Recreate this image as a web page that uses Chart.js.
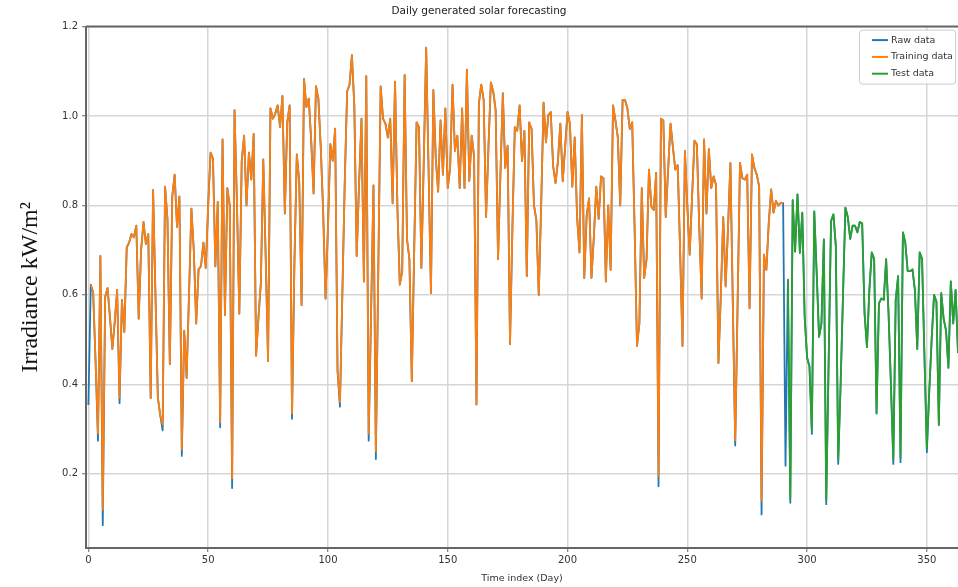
<!DOCTYPE html>
<html>
<head>
<meta charset="utf-8">
<title>Daily generated solar forecasting</title>
<script src="https://cdn.jsdelivr.net/npm/chart.js@4.4.1/dist/chart.umd.min.js"></script>
<style>
    html, body { margin: 0; padding: 0; background: #ffffff; }
    #wrap { width: 958px; height: 587px; }
</style>
</head>
<body>
<div id="wrap"><canvas id="solarChart" width="958" height="587"></canvas></div>
<script>
// Daily irradiance (kW/m2), one value per day starting at day 0
const irradiance = [
    0.354, 0.623, 0.604, 0.45, 0.274, 0.687, 0.085, 0.596, 0.615, 0.55,
    0.479, 0.54, 0.611, 0.358, 0.589, 0.517, 0.706, 0.717, 0.736, 0.729,
    0.755, 0.547, 0.70, 0.763, 0.714, 0.736, 0.369, 0.835, 0.60, 0.37,
    0.33, 0.297, 0.842, 0.77, 0.445, 0.82, 0.869, 0.752, 0.82, 0.24,
    0.52, 0.414, 0.60, 0.793, 0.70, 0.536, 0.657, 0.664, 0.717, 0.66,
    0.80, 0.918, 0.905, 0.664, 0.808, 0.304, 0.948, 0.555, 0.839, 0.80,
    0.168, 1.013, 0.808, 0.558, 0.899, 0.956, 0.80, 0.918, 0.858, 0.96,
    0.464, 0.55, 0.627, 0.903, 0.687, 0.452, 1.017, 0.994, 1.005, 1.024,
    0.975, 1.045, 0.782, 0.986, 1.024, 0.323, 0.672, 0.914, 0.854, 0.577,
    1.083, 1.02, 1.039, 0.945, 0.827, 1.067, 1.039, 0.93, 0.786, 0.592,
    0.75, 0.937, 0.90, 0.972, 0.43, 0.35, 0.60, 0.85, 1.055, 1.07,
    1.136, 1.024, 0.687, 0.85, 0.994, 0.63, 1.089, 0.274, 0.56, 0.845,
    0.233, 0.65, 1.066, 0.994, 0.983, 0.952, 0.994, 0.805, 1.077, 0.793,
    0.623, 0.653, 1.092, 0.725, 0.68, 0.407, 0.70, 0.986, 0.975, 0.66,
    0.90, 1.153, 0.88, 0.604, 1.058, 0.907, 0.831, 0.99, 0.869, 1.017,
    0.839, 0.884, 1.07, 0.922, 0.956, 0.839, 1.017, 0.839, 1.104, 0.855,
    0.956, 0.91, 0.355, 1.028, 1.07, 1.036, 0.774, 0.93, 1.075, 1.055,
    1.013, 0.68, 0.87, 1.051, 0.884, 0.934, 0.49, 0.75, 0.975, 0.967,
    1.024, 0.899, 0.967, 0.642, 0.986, 0.971, 0.80, 0.767, 0.60, 0.80,
    1.03, 0.941, 1.002, 1.009, 0.888, 0.85, 0.899, 0.983, 0.854, 0.93,
    1.009, 0.983, 0.842, 0.952, 0.774, 0.695, 1.002, 0.638, 0.778, 0.816,
    0.638, 0.73, 0.842, 0.77, 0.865, 0.861, 0.63, 0.80, 0.656, 1.024,
    0.99, 0.952, 0.80, 1.036, 1.036, 1.017, 0.971, 0.986, 0.75, 0.486,
    0.536, 0.839, 0.638, 0.68, 0.88, 0.797, 0.79, 0.873, 0.172, 0.994,
    0.99, 0.774, 0.88, 0.983, 0.93, 0.88, 0.89, 0.70, 0.486, 0.922,
    0.80, 0.69, 0.82, 0.945, 0.937, 0.75, 0.592, 0.948, 0.782, 0.926,
    0.839, 0.865, 0.846, 0.448, 0.60, 0.774, 0.619, 0.75, 0.895, 0.58,
    0.263, 0.58, 0.895, 0.861, 0.858, 0.869, 0.57, 0.914, 0.884, 0.869,
    0.842, 0.109, 0.69, 0.656, 0.76, 0.836, 0.784, 0.81, 0.80, 0.806,
    0.805, 0.218, 0.634, 0.135, 0.812, 0.697, 0.825, 0.694, 0.784, 0.55,
    0.46, 0.44, 0.289, 0.787, 0.65, 0.506, 0.536, 0.724, 0.132, 0.45,
    0.765, 0.78, 0.709, 0.222, 0.40, 0.60, 0.795, 0.774, 0.725, 0.755,
    0.755, 0.74, 0.763, 0.76, 0.558, 0.483, 0.611, 0.695, 0.68, 0.335,
    0.581, 0.592, 0.589, 0.68, 0.56, 0.40, 0.222, 0.589, 0.642, 0.226,
    0.74, 0.717, 0.653, 0.653, 0.657, 0.611, 0.479, 0.695, 0.68, 0.461,
    0.248, 0.384, 0.50, 0.60, 0.585, 0.309, 0.604, 0.547, 0.52, 0.437,
    0.63, 0.536, 0.611, 0.47
];

// first and last day of each split
const trainDays = [1, 290];
const testDays = [292, 363];

// days where the fitted line sits a little above the raw minimum
const trainTroughs = [
    [4, 0.29], [6, 0.12], [13, 0.37], [31, 0.31], [39, 0.255], [55, 0.315],
    [60, 0.19], [85, 0.335], [105, 0.36], [117, 0.29], [120, 0.25],
    [238, 0.195], [270, 0.275], [281, 0.14]
];
const testTroughs = [
    [293, 0.145], [302, 0.297], [308, 0.142], [313, 0.232], [336, 0.232],
    [339, 0.236], [350, 0.257]
];

const xTicks = [0, 50, 100, 150, 200, 250, 300, 350];
const yTicks = [0.2, 0.4, 0.6, 0.8, 1.0, 1.2];

const seriesNames = ['Raw data', 'Training data', 'Test data'];
const seriesColors = ['#1f77b4', '#ff7f0e', '#2ca02c'];

// --- build point lists ---
function slicePoints(range, troughs) {
    const fix = new Map(troughs);
    const pts = [];
    for (let d = range[0]; d <= range[1]; d++) {
        pts.push({ x: d, y: fix.has(d) ? fix.get(d) : irradiance[d] });
    }
    return pts;
}

const rawPoints = irradiance.map((v, d) => ({ x: d, y: v }));
const trainPoints = slicePoints(trainDays, trainTroughs);
const testPoints = slicePoints(testDays, testTroughs);

const tickFont = { family: 'DejaVu Sans', size: 10 };
const textColor = '#333333';
const spineColor = '#666666';
const gridColor = '#d6d6d6';

// top spine of the axes box
const topSpine = {
    id: 'topSpine',
    afterDatasetsDraw(chart) {
        const { ctx, chartArea: a } = chart;
        ctx.save();
        ctx.strokeStyle = spineColor;
        ctx.lineWidth = 2;
        ctx.beginPath();
        ctx.moveTo(a.left, a.top);
        ctx.lineTo(a.right, a.top);
        ctx.stroke();
        ctx.restore();
    }
};

// legend box in the upper right corner of the plot
const cornerLegend = {
    id: 'cornerLegend',
    afterDraw(chart) {
        const { ctx, chartArea: a } = chart;
        const boxW = 96, boxH = 54, rowH = 16.8;
        const x0 = a.right - boxW - 3, y0 = a.top + 3;
        ctx.save();
        ctx.fillStyle = 'rgba(255,255,255,0.85)';
        ctx.strokeStyle = '#cccccc';
        ctx.lineWidth = 1;
        ctx.beginPath();
        ctx.roundRect(x0 + 0.5, y0 + 0.5, boxW, boxH, 3);
        ctx.fill();
        ctx.stroke();
        ctx.font = '9.5px "DejaVu Sans"';
        ctx.textBaseline = 'middle';
        chart.data.datasets.forEach((ds, i) => {
            const cy = y0 + 10.5 + i * rowH;
            ctx.strokeStyle = ds.borderColor;
            ctx.lineWidth = 2;
            ctx.beginPath();
            ctx.moveTo(x0 + 13, cy);
            ctx.lineTo(x0 + 29, cy);
            ctx.stroke();
            ctx.fillStyle = textColor;
            ctx.fillText(ds.label, x0 + 32, cy);
        });
        ctx.restore();
    }
};

function lineSet(i, data, order) {
    return {
        label: seriesNames[i],
        data: data,
        borderColor: seriesColors[i],
        backgroundColor: seriesColors[i],
        borderWidth: 1.8,
        borderJoinStyle: 'round',
        pointRadius: 0,
        tension: 0,
        fill: false,
        order: order
    };
}

const ctx = document.getElementById('solarChart').getContext('2d');
new Chart(ctx, {
    type: 'line',
    data: {
        datasets: [
            lineSet(0, rawPoints, 3),
            lineSet(1, trainPoints, 2),
            lineSet(2, testPoints, 1)
        ]
    },
    options: {
        responsive: false,
        animation: false,
        layout: { padding: 0 },
        plugins: {
            legend: { display: false },
            tooltip: { enabled: false },
            title: {
                display: true,
                text: 'Daily generated solar forecasting',
                color: '#222222',
                font: { family: 'DejaVu Sans', size: 10.5, weight: 'normal' },
                padding: { top: 5, bottom: 9 }
            }
        },
        scales: {
            x: {
                type: 'linear',
                min: -1,
                max: 363,
                afterFit: (s) => { s.height = 39; },
                afterBuildTicks: (s) => { s.ticks = xTicks.map(v => ({ value: v })); },
                ticks: {
                    font: tickFont,
                    color: textColor,
                    padding: 2,
                    maxRotation: 0,
                    callback: (v) => String(v)
                },
                grid: { color: gridColor, lineWidth: 1.5, tickLength: 4, tickColor: spineColor, tickWidth: 1 },
                border: { color: spineColor, width: 2 },
                title: {
                    display: true,
                    text: 'Time index (Day)',
                    color: textColor,
                    font: { family: 'DejaVu Sans', size: 9.5 },
                    padding: { top: 0, bottom: 3 }
                }
            },
            y: {
                type: 'linear',
                min: 0.034,
                max: 1.2,
                afterFit: (s) => { s.width = 86; },
                afterBuildTicks: (s) => { s.ticks = yTicks.map(v => ({ value: v })); },
                ticks: {
                    font: tickFont,
                    color: textColor,
                    padding: 4,
                    callback: (v) => v.toFixed(1)
                },
                grid: { color: gridColor, lineWidth: 1.5, tickLength: 4, tickColor: spineColor, tickWidth: 1 },
                border: { color: spineColor, width: 2 },
                title: {
                    display: true,
                    text: 'Irradiance kW/m²',
                    color: '#111111',
                    font: { family: 'Liberation Serif', size: 24 },
                    padding: { top: 16, bottom: 0 }
                }
            }
        }
    },
    plugins: [topSpine, cornerLegend]
});
</script>
</body>
</html>
